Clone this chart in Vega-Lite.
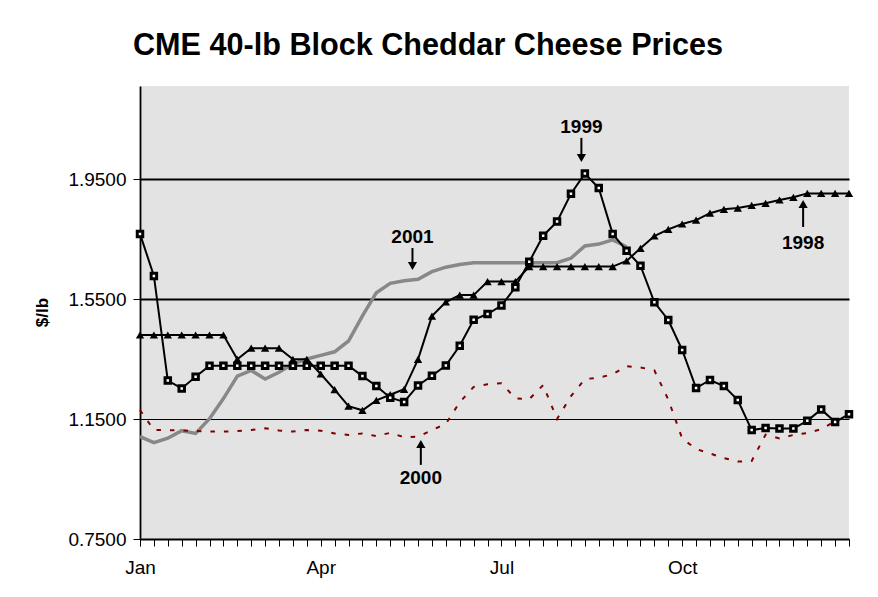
{
  "$schema": "https://vega.github.io/schema/vega-lite/v6.json",
  "width": 709,
  "height": 453,
  "autosize": {"type": "none"},
  "padding": {"left": 140, "top": 86, "right": 29, "bottom": 58},
  "background": "white",
  "title": {"text": "CME 40-lb Block Cheddar Cheese Prices", "anchor": "start", "frame": "group", "font": "Liberation Sans", "fontSize": 30.6, "fontWeight": "bold", "color": "black", "baseline": "alphabetic", "offset": 0, "dx": -7},
  "config": {"view": {"fill": "#e3e3e3", "stroke": null}, "font": "Liberation Sans"},
  "datasets": {
    "prices": [
      {"year":"1998","week":0,"price":1.43},{"year":"1998","week":1,"price":1.43},{"year":"1998","week":2,"price":1.43},{"year":"1998","week":3,"price":1.43},{"year":"1998","week":4,"price":1.43},{"year":"1998","week":5,"price":1.43},{"year":"1998","week":6,"price":1.43},{"year":"1998","week":7,"price":1.349},{"year":"1998","week":8,"price":1.386},{"year":"1998","week":9,"price":1.386},{"year":"1998","week":10,"price":1.386},{"year":"1998","week":11,"price":1.349},{"year":"1998","week":12,"price":1.349},{"year":"1998","week":13,"price":1.30},{"year":"1998","week":14,"price":1.248},{"year":"1998","week":15,"price":1.193},{"year":"1998","week":16,"price":1.179},{"year":"1998","week":17,"price":1.212},{"year":"1998","week":18,"price":1.231},{"year":"1998","week":19,"price":1.249},{"year":"1998","week":20,"price":1.349},{"year":"1998","week":21,"price":1.493},{"year":"1998","week":22,"price":1.54},{"year":"1998","week":23,"price":1.563},{"year":"1998","week":24,"price":1.563},{"year":"1998","week":25,"price":1.608},{"year":"1998","week":26,"price":1.608},{"year":"1998","week":27,"price":1.608},{"year":"1998","week":28,"price":1.658},{"year":"1998","week":29,"price":1.658},{"year":"1998","week":30,"price":1.658},{"year":"1998","week":31,"price":1.658},{"year":"1998","week":32,"price":1.658},{"year":"1998","week":33,"price":1.658},{"year":"1998","week":34,"price":1.658},{"year":"1998","week":35,"price":1.677},{"year":"1998","week":36,"price":1.719},{"year":"1998","week":37,"price":1.76},{"year":"1998","week":38,"price":1.782},{"year":"1998","week":39,"price":1.80},{"year":"1998","week":40,"price":1.813},{"year":"1998","week":41,"price":1.836},{"year":"1998","week":42,"price":1.849},{"year":"1998","week":43,"price":1.853},{"year":"1998","week":44,"price":1.862},{"year":"1998","week":45,"price":1.869},{"year":"1998","week":46,"price":1.88},{"year":"1998","week":47,"price":1.889},{"year":"1998","week":48,"price":1.902},{"year":"1998","week":49,"price":1.902},{"year":"1998","week":50,"price":1.902},{"year":"1998","week":51,"price":1.902},
      {"year":"1999","week":0,"price":1.767},{"year":"1999","week":1,"price":1.627},{"year":"1999","week":2,"price":1.278},{"year":"1999","week":3,"price":1.252},{"year":"1999","week":4,"price":1.291},{"year":"1999","week":5,"price":1.3275},{"year":"1999","week":6,"price":1.3275},{"year":"1999","week":7,"price":1.3275},{"year":"1999","week":8,"price":1.3275},{"year":"1999","week":9,"price":1.3275},{"year":"1999","week":10,"price":1.3275},{"year":"1999","week":11,"price":1.3275},{"year":"1999","week":12,"price":1.3275},{"year":"1999","week":13,"price":1.3275},{"year":"1999","week":14,"price":1.3275},{"year":"1999","week":15,"price":1.3275},{"year":"1999","week":16,"price":1.293},{"year":"1999","week":17,"price":1.26},{"year":"1999","week":18,"price":1.221},{"year":"1999","week":19,"price":1.207},{"year":"1999","week":20,"price":1.262},{"year":"1999","week":21,"price":1.294},{"year":"1999","week":22,"price":1.328},{"year":"1999","week":23,"price":1.394},{"year":"1999","week":24,"price":1.481},{"year":"1999","week":25,"price":1.5},{"year":"1999","week":26,"price":1.528},{"year":"1999","week":27,"price":1.589},{"year":"1999","week":28,"price":1.674},{"year":"1999","week":29,"price":1.761},{"year":"1999","week":30,"price":1.808},{"year":"1999","week":31,"price":1.901},{"year":"1999","week":32,"price":1.968},{"year":"1999","week":33,"price":1.92},{"year":"1999","week":34,"price":1.767},{"year":"1999","week":35,"price":1.711},{"year":"1999","week":36,"price":1.661},{"year":"1999","week":37,"price":1.539},{"year":"1999","week":38,"price":1.48},{"year":"1999","week":39,"price":1.38},{"year":"1999","week":40,"price":1.253},{"year":"1999","week":41,"price":1.28},{"year":"1999","week":42,"price":1.26},{"year":"1999","week":43,"price":1.213},{"year":"1999","week":44,"price":1.113},{"year":"1999","week":45,"price":1.12},{"year":"1999","week":46,"price":1.118},{"year":"1999","week":47,"price":1.118},{"year":"1999","week":48,"price":1.144},{"year":"1999","week":49,"price":1.182},{"year":"1999","week":50,"price":1.14},{"year":"1999","week":51,"price":1.166},
      {"year":"2000","week":0,"price":1.18},{"year":"2000","week":1,"price":1.113},{"year":"2000","week":2,"price":1.113},{"year":"2000","week":3,"price":1.112},{"year":"2000","week":4,"price":1.11},{"year":"2000","week":5,"price":1.108},{"year":"2000","week":6,"price":1.108},{"year":"2000","week":7,"price":1.11},{"year":"2000","week":8,"price":1.113},{"year":"2000","week":9,"price":1.119},{"year":"2000","week":10,"price":1.112},{"year":"2000","week":11,"price":1.108},{"year":"2000","week":12,"price":1.113},{"year":"2000","week":13,"price":1.111},{"year":"2000","week":14,"price":1.102},{"year":"2000","week":15,"price":1.097},{"year":"2000","week":16,"price":1.102},{"year":"2000","week":17,"price":1.093},{"year":"2000","week":18,"price":1.104},{"year":"2000","week":19,"price":1.089},{"year":"2000","week":20,"price":1.091},{"year":"2000","week":21,"price":1.113},{"year":"2000","week":22,"price":1.134},{"year":"2000","week":23,"price":1.206},{"year":"2000","week":24,"price":1.257},{"year":"2000","week":25,"price":1.266},{"year":"2000","week":26,"price":1.269},{"year":"2000","week":27,"price":1.219},{"year":"2000","week":28,"price":1.216},{"year":"2000","week":29,"price":1.263},{"year":"2000","week":30,"price":1.15},{"year":"2000","week":31,"price":1.226},{"year":"2000","week":32,"price":1.283},{"year":"2000","week":33,"price":1.288},{"year":"2000","week":34,"price":1.299},{"year":"2000","week":35,"price":1.326},{"year":"2000","week":36,"price":1.322},{"year":"2000","week":37,"price":1.312},{"year":"2000","week":38,"price":1.215},{"year":"2000","week":39,"price":1.085},{"year":"2000","week":40,"price":1.05},{"year":"2000","week":41,"price":1.035},{"year":"2000","week":42,"price":1.02},{"year":"2000","week":43,"price":1.008},{"year":"2000","week":44,"price":1.01},{"year":"2000","week":45,"price":1.098},{"year":"2000","week":46,"price":1.085},{"year":"2000","week":47,"price":1.097},{"year":"2000","week":48,"price":1.103},{"year":"2000","week":49,"price":1.116},{"year":"2000","week":50,"price":1.143},{"year":"2000","week":51,"price":1.16},
      {"year":"2001","week":0,"price":1.091},{"year":"2001","week":1,"price":1.071},{"year":"2001","week":2,"price":1.086},{"year":"2001","week":3,"price":1.111},{"year":"2001","week":4,"price":1.102},{"year":"2001","week":5,"price":1.151},{"year":"2001","week":6,"price":1.218},{"year":"2001","week":7,"price":1.293},{"year":"2001","week":8,"price":1.312},{"year":"2001","week":9,"price":1.283},{"year":"2001","week":10,"price":1.306},{"year":"2001","week":11,"price":1.334},{"year":"2001","week":12,"price":1.35},{"year":"2001","week":13,"price":1.362},{"year":"2001","week":14,"price":1.374},{"year":"2001","week":15,"price":1.41},{"year":"2001","week":16,"price":1.494},{"year":"2001","week":17,"price":1.571},{"year":"2001","week":18,"price":1.602},{"year":"2001","week":19,"price":1.611},{"year":"2001","week":20,"price":1.616},{"year":"2001","week":21,"price":1.641},{"year":"2001","week":22,"price":1.656},{"year":"2001","week":23,"price":1.665},{"year":"2001","week":24,"price":1.671},{"year":"2001","week":25,"price":1.671},{"year":"2001","week":26,"price":1.671},{"year":"2001","week":27,"price":1.671},{"year":"2001","week":28,"price":1.671},{"year":"2001","week":29,"price":1.671},{"year":"2001","week":30,"price":1.671},{"year":"2001","week":31,"price":1.686},{"year":"2001","week":32,"price":1.727},{"year":"2001","week":33,"price":1.733},{"year":"2001","week":34,"price":1.747},{"year":"2001","week":35,"price":1.724}
    ],
    "notes": [
      {"label":"1999","week":31.75,"price":2.123,"tail":2.087,"head":2.02,"dir":"down"},
      {"label":"2001","week":19.6,"price":1.757,"tail":1.72,"head":1.66,"dir":"down"},
      {"label":"1998","week":47.7,"price":1.737,"tail":1.79,"head":1.867,"dir":"up"},
      {"label":"2000","week":20.2,"price":0.953,"tail":0.997,"head":1.067,"dir":"up"}
    ]
  },
  "layer": [
    {
      "data": {"name": "prices"},
      "transform": [{"filter": "datum.year == '2001'"}],
      "mark": {"type": "line", "color": "#888888", "strokeWidth": 3.5},
      "encoding": {
        "x": {"field": "week", "type": "quantitative", "scale": {"domain": [0, 51], "nice": false, "zero": false},
              "axis": {"title": null, "tickCount": 100, "values": [0,1,2,3,4,5,6,7,8,9,10,11,12,13,14,15,16,17,18,19,20,21,22,23,24,25,26,27,28,29,30,31,32,33,34,35,36,37,38,39,40,41,42,43,44,45,46,47,48,49,50,51],
                       "labelExpr": "datum.value == 0 ? 'Jan' : datum.value == 13 ? 'Apr' : datum.value == 26 ? 'Jul' : datum.value == 39 ? 'Oct' : ''",
                       "labelOverlap": false, "labelFlush": false, "labelFont": "Liberation Sans", "labelFontSize": 19, "labelColor": "black", "labelBaseline": "alphabetic", "labelPadding": 27,
                       "grid": false, "domainColor": "black", "domainWidth": 1.8, "tickColor": "black", "tickSize": 7, "tickWidth": 1}},
        "y": {"field": "price", "type": "quantitative", "scale": {"domain": [0.75, 2.26], "nice": false, "zero": false},
              "axis": {"title": "$/lb", "values": [0.75, 1.15, 1.55, 1.95], "format": ".4f",
                       "labelFont": "Liberation Sans", "labelFontSize": 19, "labelColor": "black", "labelPadding": 7,
                       "grid": true, "gridColor": "black", "gridWidth": {"condition": {"test": "datum.value < 1.3", "value": 1}, "value": 1.8},
                       "domainColor": "black", "domainWidth": 1.8, "tickColor": "black", "tickSize": 7, "tickWidth": 1,
                       "titleFont": "Liberation Sans", "titleFontSize": 17, "titleFontWeight": "bold", "titleColor": "black",
                       "titleAngle": 270, "titleX": -98, "titleY": 226, "titleAlign": "center", "titleBaseline": "middle"}}
      }
    },
    {
      "data": {"name": "prices"},
      "transform": [{"filter": "datum.year == '2000'"}],
      "mark": {"type": "line", "color": "#800000", "strokeWidth": 2, "strokeDash": [4.5, 9]},
      "encoding": {"x": {"field": "week", "type": "quantitative"}, "y": {"field": "price", "type": "quantitative"}}
    },
    {
      "data": {"name": "prices"},
      "transform": [{"filter": "datum.year == '1998'"}],
      "mark": {"type": "line", "color": "black", "strokeWidth": 2},
      "encoding": {"x": {"field": "week", "type": "quantitative"}, "y": {"field": "price", "type": "quantitative"}}
    },
    {
      "data": {"name": "prices"},
      "transform": [{"filter": "datum.year == '1998'"}],
      "mark": {"type": "point", "shape": "triangle-up", "filled": true, "color": "black", "size": 70, "opacity": 1},
      "encoding": {"x": {"field": "week", "type": "quantitative"}, "y": {"field": "price", "type": "quantitative"}}
    },
    {
      "data": {"name": "prices"},
      "transform": [{"filter": "datum.year == '1999'"}],
      "mark": {"type": "line", "color": "black", "strokeWidth": 2},
      "encoding": {"x": {"field": "week", "type": "quantitative"}, "y": {"field": "price", "type": "quantitative"}}
    },
    {
      "data": {"name": "prices"},
      "transform": [{"filter": "datum.year == '1999'"}],
      "mark": {"type": "point", "shape": "square", "filled": true, "fill": "white", "stroke": "black", "strokeWidth": 3, "size": 30, "opacity": 1},
      "encoding": {"x": {"field": "week", "type": "quantitative"}, "y": {"field": "price", "type": "quantitative"}}
    },
    {
      "data": {"name": "notes"},
      "mark": {"type": "rule", "color": "black", "strokeWidth": 2},
      "encoding": {"x": {"field": "week", "type": "quantitative"}, "y": {"field": "tail", "type": "quantitative"}, "y2": {"field": "head"}}
    },
    {
      "data": {"name": "notes"},
      "mark": {"type": "point", "filled": true, "color": "black", "size": 85, "opacity": 1},
      "encoding": {"x": {"field": "week", "type": "quantitative"}, "y": {"field": "head", "type": "quantitative"},
                   "shape": {"field": "dir", "type": "nominal", "scale": {"domain": ["down", "up"], "range": ["triangle-down", "triangle-up"]}, "legend": null}}
    },
    {
      "data": {"name": "notes"},
      "mark": {"type": "text", "font": "Liberation Sans", "fontSize": 19, "fontWeight": "bold", "color": "black", "align": "center", "baseline": "middle"},
      "encoding": {"x": {"field": "week", "type": "quantitative"}, "y": {"field": "price", "type": "quantitative"}, "text": {"field": "label"}}
    }
  ]
}
